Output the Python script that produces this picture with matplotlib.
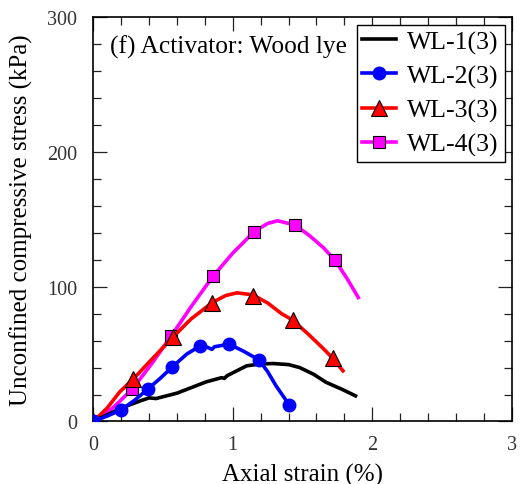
import matplotlib
matplotlib.use("Agg")
import matplotlib.pyplot as plt

plt.rcParams.update({
    "font.family": ["Liberation Serif", "DejaVu Serif"],
})

# WL-1(3): curve only
wl1_x = [0, 0.12, 0.24, 0.33, 0.40, 0.45, 0.60, 0.81, 0.92, 0.94, 0.96, 1.10, 1.20, 1.29, 1.40, 1.48, 1.58, 1.67, 1.78, 1.88]
wl1_y = [0, 6, 11.5, 15, 17.5, 17, 21, 29.4, 32.5, 32, 34, 41.3, 42.7, 43, 42.2, 40, 35, 29, 24, 19]

# WL-2(3)
wl2_x = [0, 0.1, 0.2, 0.3, 0.39, 0.48, 0.567, 0.67, 0.765, 0.82, 0.85, 0.87, 0.975, 1.08, 1.188, 1.25, 1.31, 1.36, 1.405]
wl2_y = [0, 4, 8.6, 16, 24, 32, 40.5, 50, 56, 55, 53.5, 55.5, 57.4, 52, 45.7, 37, 26.5, 19, 12.1]
wl2_mx = [0, 0.2, 0.39, 0.567, 0.765, 0.975, 1.188, 1.405]
wl2_my = [0, 8.6, 24, 40.5, 56, 57.4, 45.7, 12.1]

# WL-3(3)
wl3_x = [0, 0.1, 0.19, 0.282, 0.4, 0.569, 0.7, 0.853, 0.95, 1.03, 1.143, 1.25, 1.35, 1.43, 1.55, 1.65, 1.716, 1.79]
wl3_y = [0, 10, 22, 31, 44, 62.4, 76, 88.3, 93.5, 95.5, 94, 88, 80, 75.2, 64, 54, 47, 37.6]
wl3_mx = [0, 0.282, 0.569, 0.853, 1.143, 1.43, 1.716]
wl3_my = [0, 31.4, 62.4, 88.3, 93.3, 75.2, 47]

# WL-4(3)
wl4_x = [0, 0.14, 0.28, 0.42, 0.56, 0.7, 0.86, 1.0, 1.154, 1.25, 1.32, 1.444, 1.55, 1.65, 1.733, 1.82, 1.9]
wl4_y = [0, 10, 24, 43, 63.6, 85, 108, 125, 141, 147, 149, 146, 138, 129, 119.7, 106, 92]
wl4_mx = [0, 0.28, 0.56, 0.86, 1.154, 1.444, 1.733]
wl4_my = [0, 24, 63.6, 108, 141, 145.7, 119.7]

x_major = [0, 1, 2, 3]
y_major = [0, 100, 200, 300]

fig = plt.figure(figsize=(5.27, 4.85), dpi=100)
ax = fig.add_axes([0.177, 0.129, 0.794, 0.833])

lw = 2.6
ax.plot(wl4_x, wl4_y, color="#FF00FF", lw=lw, zorder=2)
ax.plot(wl4_mx, wl4_my, ls="none", marker="s", ms=8.5, mfc="#FF00FF", mec="black", mew=0.8, zorder=2)
ax.plot(wl3_x, wl3_y, color="red", lw=lw, zorder=3)
ax.plot(wl3_mx, wl3_my, ls="none", marker="^", ms=11, mfc="red", mec="black", mew=0.8, zorder=3)
ax.plot(wl1_x, wl1_y, color="black", lw=lw, zorder=4)
ax.plot(wl2_x, wl2_y, color="blue", lw=lw, zorder=5)
ax.plot(wl2_mx, wl2_my, ls="none", marker="o", ms=9, mfc="blue", mec="blue", zorder=5)

# legend proxies
h1, = ax.plot([], [], color="black", lw=lw, label="WL-1(3)")
h2, = ax.plot([], [], color="blue", lw=lw, marker="o", ms=9, mfc="blue", mec="blue", label="WL-2(3)")
h3, = ax.plot([], [], color="red", lw=lw, marker="^", ms=11, mfc="red", mec="black", mew=0.8, label="WL-3(3)")
h4, = ax.plot([], [], color="#FF00FF", lw=lw, marker="s", ms=8.5, mfc="#FF00FF", mec="black", mew=0.8, label="WL-4(3)")
leg = ax.legend(handles=[h1, h2, h3, h4], loc="upper right", fontsize=18.5, frameon=True,
                fancybox=False, edgecolor="black", framealpha=1, borderaxespad=0.28,
                handlelength=1.3, handletextpad=0.45, labelspacing=0.42, borderpad=0.22)
leg.get_frame().set_linewidth(1.0)
leg.set_zorder(10)

ax.text(0.04, 0.928, "(f) Activator: Wood lye", transform=ax.transAxes, fontsize=18.3,
        ha="left", va="center")

ax.set_xlim(0, 3)
ax.set_ylim(0, 300)
ax.set_xticks(x_major)
ax.set_yticks(y_major)
ax.set_xticks([i * 0.2 for i in range(16)], minor=True)
ax.set_yticks([i * 20 for i in range(16)], minor=True)
ax.tick_params(which="both", direction="in", top=True, right=True,
               labelsize=14.5, labelcolor="#333333", color="#222222")
ax.tick_params(which="major", length=10, width=0.9)
ax.tick_params(which="minor", length=6, width=0.9)
ax.tick_params(axis="x", which="major", pad=10)
ax.tick_params(axis="y", which="major", pad=11.5)
for s in ax.spines.values():
    s.set_linewidth(1.2)

ax.set_xlabel("Axial strain (%)", fontsize=18)
ax.set_ylabel("Unconfined compressive stress (kPa)", fontsize=18)
ax.xaxis.set_label_coords(0.5, -0.103)
ax.yaxis.set_label_coords(-0.145, 0.5)

fig.savefig("out.png", dpi=100)
